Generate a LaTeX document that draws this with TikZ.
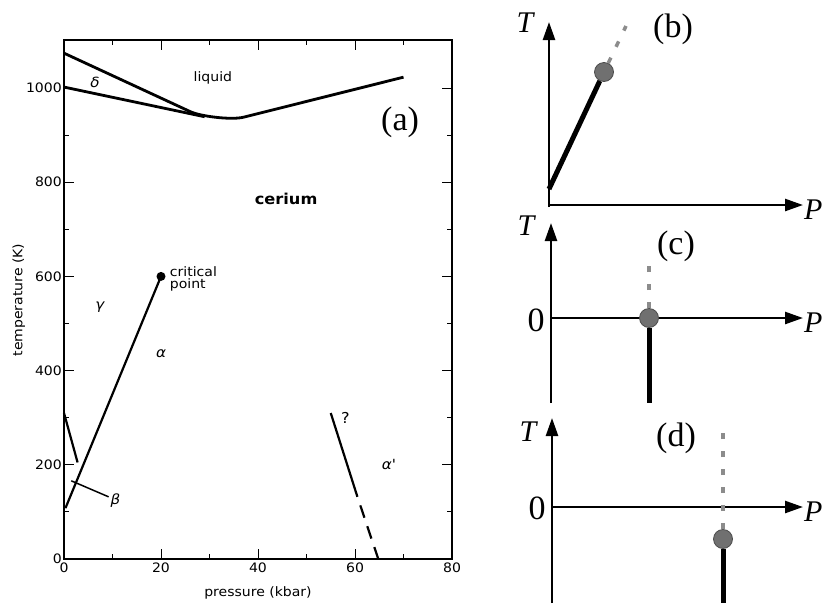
\documentclass[tikz,border=0pt]{standalone}
\usepackage{fontspec}
\setmainfont{Liberation Serif}
\newfontfamily\plotfont[FakeStretch=1.08]{DejaVu Sans}
\usetikzlibrary{arrows.meta,calc}
\definecolor{dotgray}{HTML}{8C8C8C}
\definecolor{blobgray}{HTML}{707070}

\begin{document}
\begin{tikzpicture}[x=1pt, y=-1pt,
  phase/.style={line width=2.8pt},
  thinphase/.style={line width=2.2pt},
  tickmark/.style={line width=1pt},
  lbl/.style={font=\plotfont\fontsize{13}{14}\selectfont, inner sep=1pt},
  greek/.style={font=\plotfont\itshape\fontsize{14}{15}\selectfont, inner sep=1pt},
  panelfont/.style={font=\fontsize{34}{36}\selectfont, inner sep=0pt},
  varfont/.style={font=\itshape\fontsize{30}{32}\selectfont, inner sep=0pt},
  paxis/.style={line width=2.5pt, -{Triangle[length=18pt,width=12pt]}},
  jumpline/.style={line width=5pt},
  fluct/.style={dotgray, line width=3.5pt, dash pattern=on 6pt off 12pt},
  blob/.style={circle, fill=blobgray, draw=black!70, line width=0.8pt, minimum size=19pt, inner sep=0pt}]
  \useasboundingbox (0,0) rectangle (822,603);

  % (a) phase diagram of cerium
  \begin{scope}[shift={(64,559)}, x=4.85pt, y=0.471pt]
    \draw[line width=1.8pt] (0,0) rectangle (80,1102);
    \foreach \p in {10,30,50,70} {
      \draw[tickmark] (\p,0) -- ++(0,5pt);
      \draw[tickmark] (\p,1102) -- ++(0,-5pt);
    }
    \foreach \p in {20,40,60} {
      \draw[tickmark] (\p,0) -- ++(0,10pt);
      \draw[tickmark] (\p,1102) -- ++(0,-10pt);
    }
    \foreach \t in {100,300,500,700,900} {
      \draw[tickmark] (0,\t) -- ++(5pt,0);
      \draw[tickmark] (80,\t) -- ++(-5pt,0);
    }
    \foreach \t in {200,400,600,800,1000} {
      \draw[tickmark] (0,\t) -- ++(10pt,0);
      \draw[tickmark] (80,\t) -- ++(-10pt,0);
    }
    \foreach \t in {0,200,...,1000}
      \node[lbl, anchor=east, xshift=-1pt] (t\t) at (0,\t) {\t};
    \foreach \p in {0,20,...,80}
      \node[lbl, anchor=north, yshift=-3pt] (p\p) at (\p,0) {\p};
    \node[lbl, rotate=90] (ylab) at (-9.3,550) {temperature (K)};
    \node[lbl] (xlab) at (40,-72) {pressure (kbar)};

    % melting and delta lines
    \draw[phase] (0,1074) -- (26,950) .. controls (28,940) and (34.5,931.5) .. (37,938) -- (70,1023);
    \draw[phase] (0,1002) -- (29,939);

    % gamma-alpha line ending at the critical point
    \node[circle, fill, inner sep=0pt, minimum size=9pt] (crit) at (20,600) {};
    \draw[thinphase] (0.3,108) -- (crit.center);
    \node[anchor=west, align=left, inner sep=0pt, font=\plotfont\fontsize{13}{12}\selectfont] (critlbl) at (21.8,594) {critical\\point};
    \draw[thinphase] (0,310) -- (2.8,205);
    \draw[line width=1.5pt] (1.5,166) -- (9.2,132);

    % alpha' boundary
    \draw[thinphase] (55,310) -- (60.5,132);
    \draw[thinphase, dash pattern=on 13pt off 9pt, dash phase=13pt] (60.5,132) -- (64.8,0);

    \node[greek] (delta) at (6.4,1012) {δ};
    \node[greek] (gamma) at (7.4,535) {γ};
    \node[greek] (alpha) at (20,437) {α};
    \node[greek] (beta) at (10.6,124) {β};
    \node[greek] (alphap) at (67,200) {α'};
    \node[font=\plotfont\fontsize{15}{16}\selectfont] (query) at (58,300) {?};
    \node[lbl] (liquid) at (30.7,1021) {liquid};
    \node[font=\plotfont\bfseries\fontsize{15}{16}\selectfont] (cerium) at (45.8,764) {cerium};
    \node[panelfont] (laba) at (69.3,928) {(a)};
  \end{scope}

  % (b)
  \draw[paxis] (549,207) -- (549,22);
  \draw[paxis] (548,205) -- (803,205);
  \node[varfont] (tb) at (525,23) {T};
  \node[varfont, anchor=west] (pb) at (804,210) {P};
  \node[panelfont] (labb) at (673,29) {(b)};
  \node[blob] (cb) at (604,72) {};
  \draw[jumpline] (549,189) -- (cb);
  \draw[fluct] (cb) -- (626,26);

  % (c)
  \draw[paxis] (551,403) -- (551,223);
  \draw[paxis] (551,318) -- (803,318);
  \node[varfont] (tc) at (526,226) {T};
  \node[varfont, anchor=west] (pc) at (804,323) {P};
  \node[panelfont] (zc) at (536,320) {0};
  \node[panelfont] (labc) at (676,246) {(c)};
  \node[blob] (cc) at (649,318) {};
  \draw[jumpline] (cc) -- (649,403);
  \draw[fluct] (cc) -- (649,264);

  % (d)
  \draw[paxis] (552,603) -- (552,418);
  \draw[paxis] (552,507) -- (803,507);
  \node[varfont] (td) at (528,432) {T};
  \node[varfont, anchor=west] (pd) at (804,512) {P};
  \node[panelfont] (zd) at (537,508) {0};
  \node[panelfont] (labd) at (676,438) {(d)};
  \node[blob] (cd) at (723,539) {};
  \draw[jumpline] (cd) -- (723,603);
  \draw[fluct] (cd) -- (723,432);
\end{tikzpicture}
\end{document}
